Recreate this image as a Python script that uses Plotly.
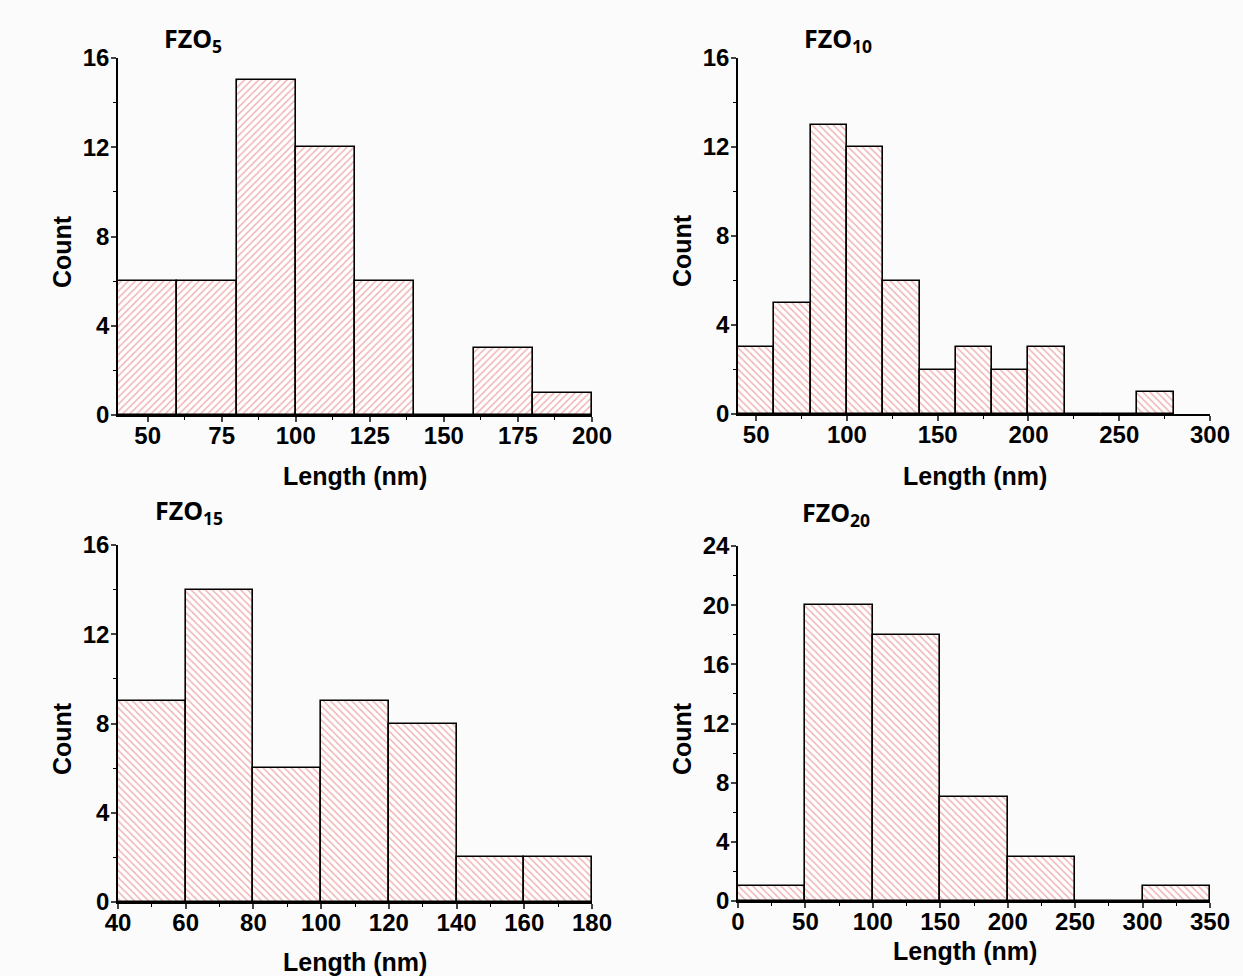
import plotly.graph_objects as go

# ---- data ----
edges_5 = [40, 60, 80, 100, 120, 140, 160, 180, 200]
counts_5 = [6, 6, 15, 12, 6, 0, 3, 1]

edges_10 = [40, 60, 80, 100, 120, 140, 160, 180, 200, 220, 240, 260, 280]
counts_10 = [3, 5, 13, 12, 6, 2, 3, 2, 3, 0, 0, 1]

edges_15 = [40, 60, 80, 100, 120, 140, 160, 180]
counts_15 = [9, 14, 6, 9, 8, 2, 2]

edges_20 = [0, 50, 100, 150, 200, 250, 300, 350]
counts_20 = [1, 20, 18, 7, 3, 0, 1]

titles = ["FZO<sub>5</sub>", "FZO<sub>10</sub>", "FZO<sub>15</sub>", "FZO<sub>20</sub>"]

W, H = 1243, 976
BG = "#fbfbfb"
TICKFONT = dict(family="Liberation Sans, Arial", size=24, color="black", weight="bold")
LABFONT = dict(family="Liberation Sans, Arial", size=25, color="black", weight="bold")
TITLEFONT = dict(family="Open Sans, Calibri, Liberation Sans", size=25, color="black", weight="bold")

panels = [
    dict(edges=edges_5, counts=counts_5, shape="/", xr=[40, 200], x0=50, dx=25, yr=[0, 16], dy=4,
         px=(118, 592), py=(58, 415), title=titles[0], tpos=(193, 39), cpos=(62, 252), lpos=(355, 476)),
    dict(edges=edges_10, counts=counts_10, shape="\\", xr=[40, 300], x0=50, dx=50, yr=[0, 16], dy=4,
         px=(738, 1210), py=(58, 414), title=titles[1], tpos=(838, 39), cpos=(682, 251), lpos=(975, 476)),
    dict(edges=edges_15, counts=counts_15, shape="\\", xr=[40, 180], x0=40, dx=20, yr=[0, 16], dy=4,
         px=(118, 592), py=(545, 902), title=titles[2], tpos=(189, 511), cpos=(62, 739), lpos=(355, 962)),
    dict(edges=edges_20, counts=counts_20, shape="\\", xr=[0, 350], x0=0, dx=50, yr=[0, 24], dy=4,
         px=(738, 1210), py=(546, 901), title=titles[3], tpos=(836, 513), cpos=(682, 739), lpos=(965, 951)),
]

fig = go.Figure()
annotations = []
layout_axes = {}
for i, p in enumerate(panels, start=1):
    e = p["edges"]
    centers = [(a + b) / 2 for a, b in zip(e[:-1], e[1:])]
    widths = [b - a for a, b in zip(e[:-1], e[1:])]
    xa = "x" if i == 1 else f"x{i}"
    ya = "y" if i == 1 else f"y{i}"
    fig.add_trace(go.Bar(
        x=centers, y=p["counts"], width=widths, xaxis=xa, yaxis=ya,
        marker=dict(color="white",
                    line=dict(color="black", width=1.6),
                    pattern=dict(shape=p["shape"], fgcolor="#e26a6a", bgcolor="white",
                                 size=5, solidity=0.3)),
        showlegend=False,
    ))
    xkey = "xaxis" if i == 1 else f"xaxis{i}"
    ykey = "yaxis" if i == 1 else f"yaxis{i}"
    layout_axes[xkey] = dict(
        domain=[p["px"][0] / W, p["px"][1] / W], anchor=ya, range=p["xr"], automargin=False,
        tick0=p["x0"], dtick=p["dx"], ticks="outside", ticklen=5, tickwidth=1.5,
        ticklabelstandoff=-7,
        showline=True, linecolor="black", linewidth=1.5, showgrid=False, zeroline=False,
        tickfont=TICKFONT,
        minor=dict(dtick=p["dx"] / 2, ticks="outside", ticklen=3, tickwidth=1, tickcolor="black", showgrid=False),
    )
    layout_axes[ykey] = dict(
        domain=[1 - p["py"][1] / H, 1 - p["py"][0] / H], anchor=xa, range=p["yr"], automargin=False,
        tick0=0, dtick=p["dy"], ticks="outside", ticklen=5, tickwidth=1.5,
        ticklabelstandoff=-3,
        showline=True, linecolor="black", linewidth=1.5, showgrid=False, zeroline=False,
        tickfont=TICKFONT,
        minor=dict(dtick=p["dy"] / 2, ticks="outside", ticklen=3, tickwidth=1, tickcolor="black", showgrid=False),
    )
    annotations.append(dict(text=p["title"], x=p["tpos"][0] / W, y=1 - p["tpos"][1] / H,
                            xref="paper", yref="paper", showarrow=False, font=TITLEFONT,
                            xanchor="center", yanchor="middle"))
    annotations.append(dict(text="Count", x=p["cpos"][0] / W, y=1 - p["cpos"][1] / H,
                            xref="paper", yref="paper", showarrow=False, font=LABFONT,
                            textangle=-90, xanchor="center", yanchor="middle"))
    annotations.append(dict(text="Length (nm)", x=p["lpos"][0] / W, y=1 - p["lpos"][1] / H,
                            xref="paper", yref="paper", showarrow=False, font=LABFONT,
                            xanchor="center", yanchor="middle"))

fig.update_layout(
    width=W, height=H, margin=dict(l=0, r=0, t=0, b=0),
    paper_bgcolor=BG, plot_bgcolor=BG, bargap=0,
    annotations=annotations, **layout_axes,
)
fig.write_html("out.html")
